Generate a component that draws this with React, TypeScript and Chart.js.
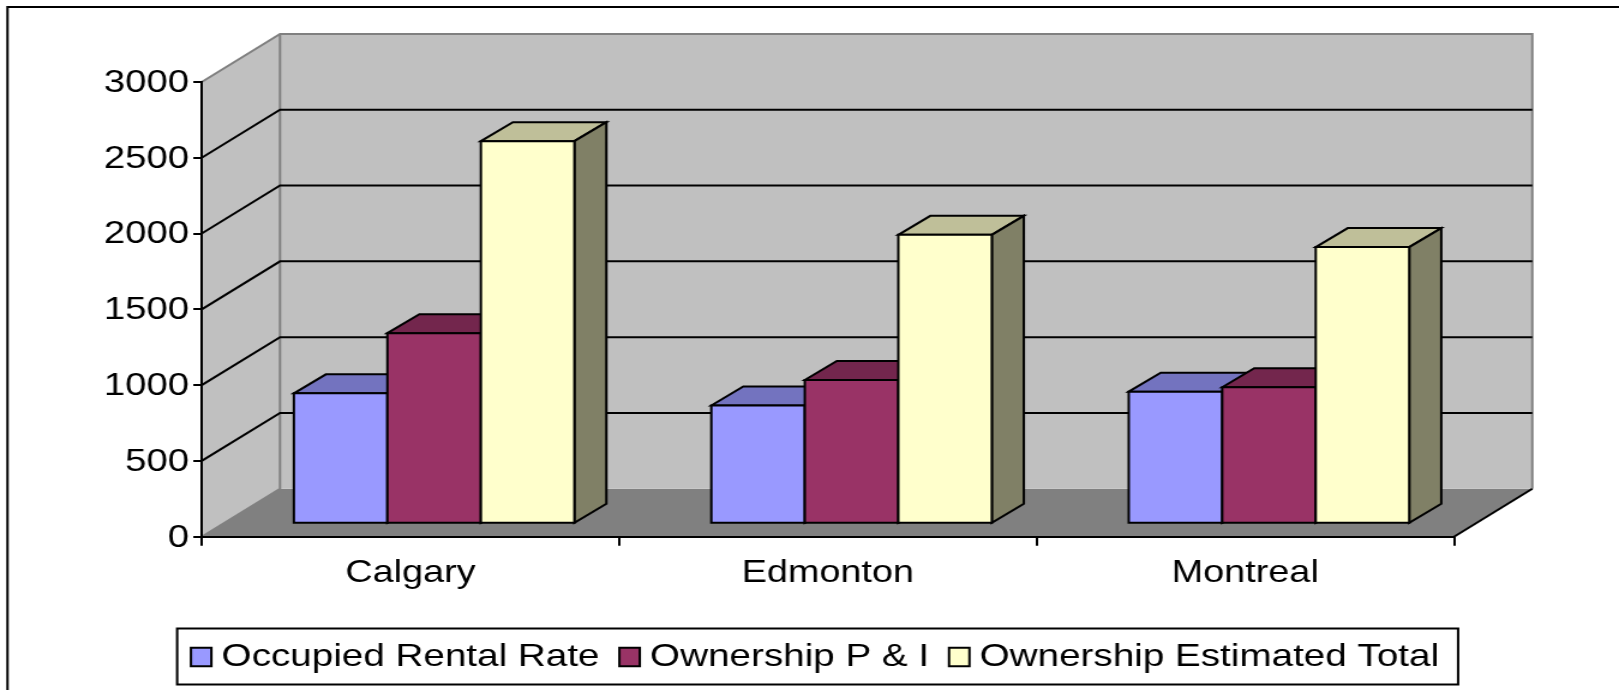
import React, { useEffect, useRef } from "react";
import { Chart, registerables } from "chart.js";

Chart.register(...registerables);

const categories = ["Calgary", "Edmonton", "Montreal"];
const rentalValues = [860, 780, 871];
const principalValues = [1257, 948, 900];
const totalValues = [2524, 1906, 1825];

const seriesNames = ["Occupied Rental Rate", "Ownership P & I", "Ownership Estimated Total"];
const frontColors = ["#9999FF", "#993366", "#FFFFCC"];
const topColors = ["#7373BF", "#73264D", "#BFBF99"];
const sideColors = ["#4D4D80", "#4D1A33", "#808066"];

const CANVAS_W = 1349;
const CANVAS_H = 690;
const STRETCH = 1619 / CANVAS_W;
const px = (x: number) => x / STRETCH;

const WALL_DX = px(78.3);
const WALL_DY = 48;
const BAR_SHIFT_X = px(23.7);
const BAR_SHIFT_Y = 13;
const BAR_DX = px(32);
const BAR_DY = 19;
const SWATCH_SHIFT = 2.6;
const PAD_LEFT = 6.6;

function poly(ctx: CanvasRenderingContext2D, pts: number[][], fill: string | null, stroke: string | null, lw = 2) {
  ctx.beginPath();
  pts.forEach((p, i) => (i ? ctx.lineTo(p[0], p[1]) : ctx.moveTo(p[0], p[1])));
  ctx.closePath();
  if (fill) {
    ctx.fillStyle = fill;
    ctx.fill();
  }
  if (stroke) {
    ctx.strokeStyle = stroke;
    ctx.lineWidth = lw;
    ctx.lineJoin = "miter";
    ctx.stroke();
  }
}

function line(ctx: CanvasRenderingContext2D, pts: number[][], color: string, lw = 2) {
  ctx.beginPath();
  pts.forEach((p, i) => (i ? ctx.lineTo(p[0], p[1]) : ctx.moveTo(p[0], p[1])));
  ctx.strokeStyle = color;
  ctx.lineWidth = lw;
  ctx.stroke();
}

const scene3d = {
  id: "scene3d",
  beforeDraw(chart: any) {
    const { ctx, chartArea: a, scales } = chart;
    const y = scales.y;
    const L = a.left, R = a.right, T = a.top, B = a.bottom;
    const dx = WALL_DX, dy = WALL_DY;
    ctx.save();
    ctx.fillStyle = "#FFFFFF";
    ctx.fillRect(0, 0, chart.width, chart.height);
    // outer frame: its right and bottom sides fall outside the picture
    line(ctx, [[px(7.5), 700], [px(7.5), 7], [chart.width + 5, 7]], "#000000", 2);
    // floor
    poly(ctx, [[L, B], [R, B], [R + dx, B - dy], [L + dx, B - dy]], "#808080", null);
    // left and back wall
    poly(ctx, [[L, B], [L, T], [L + dx, T - dy], [L + dx, B - dy]], "#C0C0C0", null);
    poly(ctx, [[L + dx, T - dy], [R + dx, T - dy], [R + dx, B - dy], [L + dx, B - dy]], "#C0C0C0", null);
    // wall edges
    line(ctx, [[L, T], [L + dx, T - dy], [R + dx, T - dy], [R + dx, B - dy]], "#808080");
    line(ctx, [[L + dx, T - dy], [L + dx, B - dy], [L, B]], "#808080");
    // grid lines follow the value scale across both walls
    for (const t of y.ticks) {
      if (t.value === y.min || t.value === y.max) continue;
      const py = y.getPixelForValue(t.value);
      line(ctx, [[L, py], [L + dx, py - dy], [R + dx, py - dy]], "#000000");
    }
    line(ctx, [[R, B], [R + dx, B - dy]], "#000000");
    ctx.restore();
  },
  beforeDatasetsDraw(chart: any) {
    const { ctx } = chart;
    ctx.save();
    ctx.translate(BAR_SHIFT_X, -BAR_SHIFT_Y);
    chart.data.datasets.forEach((_: any, di: number) => {
      const meta = chart.getDatasetMeta(di);
      meta.data.forEach((bar: any) => {
        const l = bar.x - bar.width / 2, r = bar.x + bar.width / 2;
        const t = bar.y, b = bar.base;
        poly(ctx, [[l, t], [l + BAR_DX, t - BAR_DY], [r + BAR_DX, t - BAR_DY], [r, t]], topColors[di], "#000000");
        poly(ctx, [[r, t], [r + BAR_DX, t - BAR_DY], [r + BAR_DX, b - BAR_DY], [r, b]], sideColors[di], "#000000");
      });
      meta.controller.draw();
      meta.data.forEach((bar: any) => {
        const l = bar.x - bar.width / 2, r = bar.x + bar.width / 2;
        poly(ctx, [[l, bar.y], [r, bar.y], [r, bar.base], [l, bar.base]], null, "#000000");
      });
    });
    ctx.restore();
    return false;
  },
  afterDraw(chart: any) {
    const { ctx, legend } = chart;
    const hits = legend.legendHitBoxes;
    const midY = legend.top + legend.height / 2 + 1.5;
    ctx.save();
    const first = hits[0], last = hits[hits.length - 1];
    const boxL = first.left + SWATCH_SHIFT - px(13.8);
    const boxR = last.left + last.width + px(19);
    poly(ctx, [[boxL, midY - 28], [boxR, midY - 28], [boxR, midY + 28], [boxL, midY + 28]], null, "#000000");
    hits.forEach((h: any, i: number) => {
      const cy = h.top + h.height / 2;
      const l = h.left + SWATCH_SHIFT;
      poly(ctx, [[h.left - 1, cy - 11], [l + 18, cy - 11], [l + 18, cy + 11], [h.left - 1, cy + 11]], "#FFFFFF", null);
      poly(ctx, [[l, cy - 9.25], [l + 17, cy - 9.25], [l + 17, cy + 9.25], [l, cy + 9.25]], frontColors[i], "#000000");
    });
    ctx.restore();
  },
};

export default function App() {
  const ref = useRef<HTMLCanvasElement | null>(null);
  useEffect(() => {
    document.body.style.margin = "0";
    document.body.style.overflow = "hidden";
    const mk = (label: string, data: number[], i: number) => ({
      label,
      data,
      backgroundColor: frontColors[i],
      borderWidth: 0,
      categoryPercentage: 0.672,
      barPercentage: 1,
      yAxisID: "y",
    });
    const font = { family: "'Liberation Sans', Arial, sans-serif" };
    const chart = new Chart(ref.current as HTMLCanvasElement, {
      type: "bar",
      data: {
        labels: categories,
        datasets: [
          mk(seriesNames[0], rentalValues, 0),
          mk(seriesNames[1], principalValues, 1),
          mk(seriesNames[2], totalValues, 2),
        ],
      },
      plugins: [scene3d],
      options: {
        responsive: false,
        animation: false,
        devicePixelRatio: 1,
        layout: { padding: { left: PAD_LEFT, top: 82, bottom: 7, right: 0 } },
        plugins: {
          title: { display: false },
          tooltip: { enabled: false },
          legend: {
            display: true,
            position: "bottom",
            labels: {
              boxWidth: 12,
              boxHeight: 19,
              padding: 14,
              color: "#000000",
              font: { ...font, size: 32.2 },
            },
          },
        },
        scales: {
          x: {
            type: "category",
            offset: true,
            grid: { display: true, offset: true, drawOnChartArea: false, drawTicks: true, tickLength: 9, color: "#000000", lineWidth: 2 },
            border: { display: true, color: "#000000", width: 2 },
            ticks: { color: "#000000", font: { ...font, size: 31.5 }, padding: 8.7, maxRotation: 0 },
            afterFit(s: any) {
              s.height = 90.1;
              s.paddingLeft = 0;
              s.paddingRight = 0;
            },
          },
          y: {
            type: "linear",
            min: 0,
            max: 3000,
            grid: { display: true, drawOnChartArea: false, drawTicks: true, tickLength: 7, color: "#000000", lineWidth: 2 },
            border: { display: true, color: "#000000", width: 2 },
            ticks: {
              stepSize: 500,
              color: "#000000",
              font: { ...font, size: 32 },
              padding: 3.5,
              labelOffset: 1,
              callback: (v: any) => String(v),
            },
            afterFit(s: any) {
              s.width = px(201.7) - PAD_LEFT;
              s.paddingTop = 0;
              s.paddingBottom = 0;
            },
          },
          spacer: {
            type: "linear",
            position: "right",
            display: true,
            grid: { display: false },
            border: { display: false },
            ticks: { display: false },
            afterFit(s: any) {
              s.width = CANVAS_W - px(1454);
              s.paddingTop = 0;
              s.paddingBottom = 0;
            },
          },
        },
      } as any,
    });
    return () => chart.destroy();
  }, []);
  return (
    <canvas
      ref={ref}
      width={CANVAS_W}
      height={CANVAS_H}
      style={{
        display: "block",
        width: CANVAS_W,
        height: CANVAS_H,
        transform: `scale(${STRETCH}, 1)`,
        transformOrigin: "0 0",
      }}
    />
  );
}
